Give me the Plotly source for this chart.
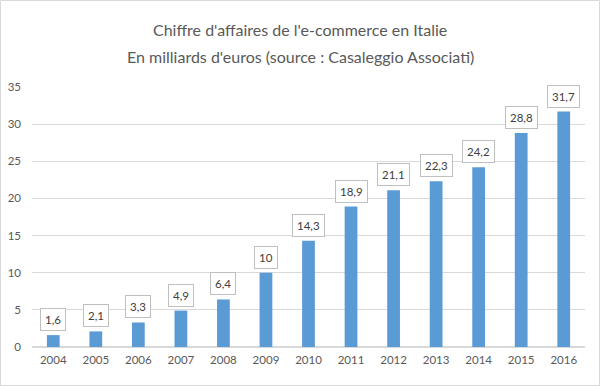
import plotly.graph_objects as go

years = [2004, 2005, 2006, 2007, 2008, 2009, 2010,
         2011, 2012, 2013, 2014, 2015, 2016]
values = [1.6, 2.1, 3.3, 4.9, 6.4, 10, 14.3, 18.9, 21.1, 22.3, 24.2, 28.8, 31.7]
labels = ["1,6", "2,1", "3,3", "4,9", "6,4", "10", "14,3", "18,9", "21,1",
          "22,3", "24,2", "28,8", "31,7"]
y_ticks = [0, 5, 10, 15, 20, 25, 30, 35]
title_lines = ["Chiffre d'affaires de l'e-commerce en Italie",
               "En milliards d'euros (source : Casaleggio Associati)"]

W, H = 600, 386
ml, mr, mt, mb = 32, 15, 87, 39
font = "Lato"
pw = W - ml - mr
ph = H - mt - mb

fig = go.Figure(go.Bar(x=years, y=values, marker_color="#5B9BD5",
                       marker_line_width=0, width=0.3))

for yr, v, lab in zip(years, values, labels):
    fig.add_annotation(x=yr, y=v, text=lab, showarrow=False, yanchor="bottom",
                       yshift=4, bgcolor="white", bordercolor="#BFBFBF",
                       borderwidth=1, borderpad=4,
                       font=dict(family=font, size=11.5, color="#404040"))

for line, ypix in zip(title_lines, [30, 57]):
    fig.add_annotation(xref="paper", yref="paper", x=(300 - ml) / pw,
                       y=1 + (mt - ypix) / ph, text=line, showarrow=False,
                       xanchor="center", yanchor="middle",
                       font=dict(family=font, size=16, color="#595959"))

fig.add_shape(type="rect", xref="paper", yref="paper",
              x0=-(ml - 0.5) / pw, x1=1 + (mr - 0.5) / pw,
              y0=-(mb - 0.5) / ph, y1=1 + (mt - 0.5) / ph,
              line=dict(color="#D9D9D9", width=1))

fig.update_layout(
    width=W, height=H,
    margin=dict(l=ml, r=mr, t=mt, b=mb),
    paper_bgcolor="white", plot_bgcolor="white",
    showlegend=False,
    xaxis=dict(range=[years[0] - 0.5, years[-1] + 0.5], tickvals=years,
               showgrid=False, showline=False, zeroline=False, ticks="",
               automargin=False, ticklabelstandoff=4,
               tickfont=dict(family=font, size=11.5, color="#595959")),
    yaxis=dict(range=[0, 35], tickvals=y_ticks, showgrid=True,
               gridcolor="#D9D9D9", gridwidth=1, zeroline=True,
               zerolinecolor="#D9D9D9", ticks="", ticklabelstandoff=10,
               automargin=False,
               tickfont=dict(family=font, size=11.5, color="#595959")),
)

fig.write_html("out.html", config={"displayModeBar": False},
               post_script="document.body.style.margin='0';"
                           "document.body.style.overflow='hidden';")
